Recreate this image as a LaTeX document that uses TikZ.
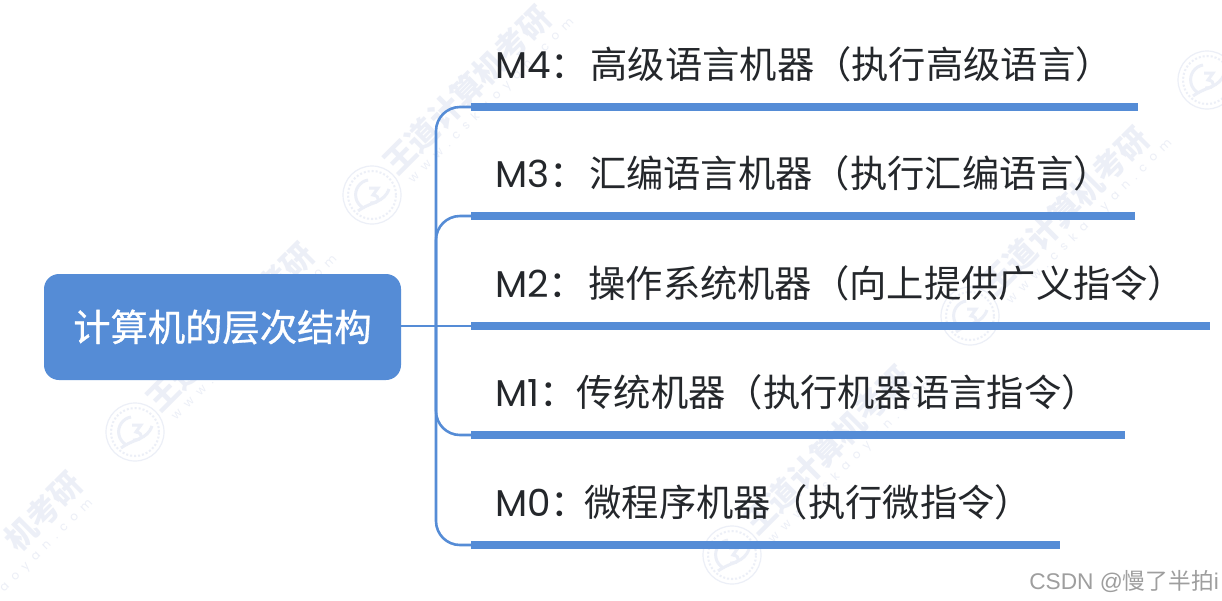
\documentclass[tikz,border=0pt]{standalone}
\usepackage{fontspec}
\newfontfamily\cjk{Noto Sans CJK SC}
\newfontfamily\cjkroot[FakeBold=0.8]{Noto Sans CJK SC}
\newfontfamily\latn{Poppins}
\newfontfamily\wmlatn[LetterSpace=60]{Poppins}
\definecolor{mapblue}{HTML}{558CD6}
\definecolor{wmark}{HTML}{ECEFF7}
\definecolor{inktext}{HTML}{24272B}
\tikzset{
  rootbox/.style={fill=mapblue,draw=none,rounded corners=15pt,minimum width=357pt,minimum height=106pt,inner sep=0pt,text=white,font=\cjkroot\fontsize{37.3}{38}\selectfont},
  itemlabel/.style={anchor=base west,inner sep=0pt,text=inktext,font=\cjk\fontsize{37.3}{38}\selectfont},
  bar/.style={draw=mapblue,line width=7.5pt},
  branch/.style={draw=mapblue,line width=2.6pt,rounded corners=24pt},
  wmtext/.style={rotate=45,inner sep=0pt,text=wmark,font=\cjk\bfseries\fontsize{31.5}{32}\selectfont},
  wmurl/.style={rotate=45,inner sep=0pt,text=wmark,font=\wmlatn\fontsize{12}{12}\selectfont},
  wmlogo/.style={circle,draw=wmark,line width=1.2pt,minimum size=58pt,inner sep=0pt},
  wmstroke/.style={draw=wmark,line width=3pt},
}
\newcommand{\wmlogoat}[3]{%
  \node[wmlogo] (logo#1) at (#2,#3) {};
  \draw[draw=wmark,line width=2pt,dotted] (logo#1.center) circle[radius=24pt];
  \draw[wmstroke] ([shift={(-4pt,15pt)}]logo#1.center) arc[start angle=100,end angle=240,radius=15pt];
  \draw[wmstroke] ([shift={(-3pt,7pt)}]logo#1.center) -- ([shift={(6pt,7pt)}]logo#1.center) -- ([shift={(1pt,0pt)}]logo#1.center) .. controls ([shift={(9pt,-1pt)}]logo#1.center) and ([shift={(8pt,-9pt)}]logo#1.center) .. ([shift={(-2pt,-8pt)}]logo#1.center);
  \draw[wmstroke] ([shift={(-14pt,-16pt)}]logo#1.center) .. controls ([shift={(0pt,-6pt)}]logo#1.center) and ([shift={(12pt,-8pt)}]logo#1.center) .. ([shift={(17pt,6pt)}]logo#1.center);
}
\newcommand{\wm}[3]{%
  \wmlogoat{#1}{#2}{#3}
  \node[wmtext,anchor=west] (wmt#1) at ([shift={(17pt,27pt)}]logo#1.center) {王道计算机考研};
  \node[wmurl,anchor=west] (wmu#1) at ([shift={(39pt,13pt)}]logo#1.center) {www.cskaoyan.com};
}
\begin{document}
\begin{tikzpicture}[x=1pt,y=-1pt]
\useasboundingbox (0,0) rectangle (1222,600);
\fill[white] (0,0) rectangle (1222,600);
\wm{a}{372}{195}
\wm{b}{135}{432}
\wm{c}{970}{316}
\wm{d}{732}{555}
\wmlogoat{e}{1207}{80}
\node[wmtext,anchor=east] (wmtf) at (77,478) {机考研};
\node[wmurl,anchor=east] (wmuf) at (92,502) {aoyan.com};
\node[rootbox] (root) at (222.5,327) {计算机的层次结构};
\coordinate (trunk) at (436,326);
\foreach \n/\y/\e in {4/107/1138,3/216/1135,2/326/1210,1/435/1125,0/545/1060}{
  \coordinate (s\n) at (471,\y);
  \coordinate (e\n) at (\e,\y);
  \draw[bar] (s\n) -- (e\n);
}
\draw[branch] (s2 -| root.east) -- (s2);
\draw[branch] (trunk) |- (s4);
\draw[branch] (trunk) |- (s3);
\draw[branch] (trunk) |- (s1);
\draw[branch] (trunk) |- (s0);
\node[itemlabel] (m4) at (495,78) {{\latn M4}：\hspace{2.5pt}高级语言机器（执行高级语言）};
\node[itemlabel] (m3) at (495,187) {{\latn M3}：\hspace{2.5pt}汇编语言机器（执行汇编语言）};
\node[itemlabel] (m2) at (495,297) {{\latn M2}：\hspace{2.4pt}操作系统机器（向上提供广义指令）};
\node[itemlabel] (m1) at (495,406) {{\latn M1}：传统机器（执行机器语言指令）};
\node[itemlabel] (m0) at (495,516) {{\latn M0}：\hspace{-3.6pt}微程序机器（执行微指令）};
\node[anchor=base east,inner sep=0pt,text=black!38,font=\fontspec{Liberation Sans}\fontsize{22.7}{23}\selectfont] (csdn) at (1219,589) {CSDN @{\cjk 慢了半拍}i};
\end{tikzpicture}
\end{document}
